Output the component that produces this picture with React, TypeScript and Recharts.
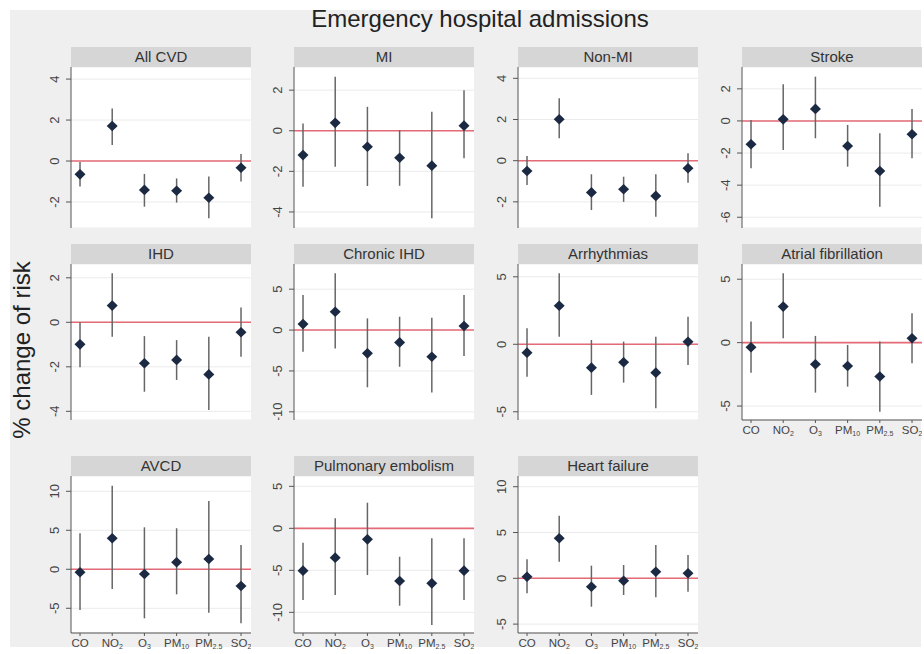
import { ComposedChart, Scatter, ErrorBar, XAxis, YAxis, CartesianGrid, ReferenceLine } from "recharts";

const xPos = [1, 2, 3, 4, 5, 6];
const pollutants = ["CO", "NO", "O", "PM", "PM", "SO"];
const pollutantSubs = ["", "2", "3", "10", "2.5", "2"];

const allCvdEst = [-0.65, 1.71, -1.41, -1.45, -1.79, -0.33];
const allCvdLo = [-1.25, 0.78, -2.23, -2.03, -2.8, -1.0];
const allCvdHi = [-0.05, 2.57, -0.63, -0.85, -0.76, 0.34];

const miEst = [-1.2, 0.39, -0.79, -1.33, -1.72, 0.25];
const miLo = [-2.76, -1.77, -2.72, -2.71, -4.31, -1.36];
const miHi = [0.36, 2.66, 1.18, 0.03, 0.94, 2.0];

const nonMiEst = [-0.5, 2.01, -1.54, -1.39, -1.71, -0.37];
const nonMiLo = [-1.18, 1.09, -2.4, -2.0, -2.72, -1.07];
const nonMiHi = [0.23, 3.03, -0.66, -0.78, -0.66, 0.36];

const strokeEst = [-1.45, 0.1, 0.75, -1.56, -3.12, -0.83];
const strokeLo = [-2.95, -1.81, -1.08, -2.85, -5.34, -2.32];
const strokeHi = [0.06, 2.29, 2.76, -0.25, -0.77, 0.75];

const ihdEst = [-0.99, 0.75, -1.84, -1.69, -2.34, -0.45];
const ihdLo = [-2.02, -0.65, -3.12, -2.59, -3.94, -1.55];
const ihdHi = [0.0, 2.2, -0.62, -0.8, -0.65, 0.66];

const chronicIhdEst = [0.73, 2.24, -2.85, -1.51, -3.27, 0.49];
const chronicIhdLo = [-2.65, -2.24, -7.0, -4.49, -7.63, -3.18];
const chronicIhdHi = [4.28, 6.94, 1.43, 1.63, 1.51, 4.28];

const arrhythmiasEst = [-0.62, 2.86, -1.73, -1.33, -2.1, 0.19];
const arrhythmiasLo = [-2.4, 0.56, -3.75, -2.84, -4.74, -1.53];
const arrhythmiasHi = [1.19, 5.26, 0.32, 0.2, 0.56, 2.04];

const afEst = [-0.36, 2.84, -1.7, -1.84, -2.67, 0.35];
const afLo = [-2.37, 0.35, -3.94, -3.47, -5.44, -1.62];
const afHi = [1.66, 5.47, 0.53, -0.18, 0.08, 2.32];

const avcdEst = [-0.38, 3.97, -0.6, 0.9, 1.32, -2.14];
const avcdLo = [-5.22, -2.53, -6.29, -3.21, -5.56, -6.92];
const avcdHi = [4.62, 10.72, 5.38, 5.26, 8.76, 3.12];

const peEst = [-5.04, -3.49, -1.31, -6.27, -6.55, -5.04];
const peLo = [-8.54, -7.94, -5.56, -9.21, -11.5, -8.54];
const peHi = [-1.71, 1.19, 3.05, -3.38, -1.19, -1.19];

const hfEst = [0.17, 4.37, -0.92, -0.26, 0.72, 0.55];
const hfLo = [-1.64, 1.81, -3.1, -1.82, -2.07, -1.46];
const hfHi = [2.07, 6.83, 1.38, 1.45, 3.64, 2.54];

const panels = [
  { title: "All CVD", est: allCvdEst, lo: allCvdLo, hi: allCvdHi, domain: [-3.27, 4.59], ticks: [-2, 0, 2, 4], col: 0, row: 0 },
  { title: "MI", est: miEst, lo: miLo, hi: miHi, domain: [-4.79, 3.14], ticks: [-4, -2, 0, 2], col: 1, row: 0 },
  { title: "Non-MI", est: nonMiEst, lo: nonMiLo, hi: nonMiHi, domain: [-3.27, 4.55], ticks: [-2, 0, 2, 4], col: 2, row: 0 },
  { title: "Stroke", est: strokeEst, lo: strokeLo, hi: strokeHi, domain: [-6.67, 3.36], ticks: [-6, -4, -2, 0, 2], col: 3, row: 0 },
  { title: "IHD", est: ihdEst, lo: ihdLo, hi: ihdHi, domain: [-4.39, 2.62], ticks: [-4, -2, 0, 2], col: 0, row: 1 },
  { title: "Chronic IHD", est: chronicIhdEst, lo: chronicIhdLo, hi: chronicIhdHi, domain: [-11.0, 8.08], ticks: [-10, -5, 0, 5], col: 1, row: 1 },
  { title: "Arrhythmias", est: arrhythmiasEst, lo: arrhythmiasLo, hi: arrhythmiasHi, domain: [-5.61, 5.95], ticks: [-5, 0, 5], col: 2, row: 1 },
  { title: "Atrial fibrillation", est: afEst, lo: afLo, hi: afHi, domain: [-6.1, 6.2], ticks: [-5, 0, 5], col: 3, row: 1, showX: true },
  { title: "AVCD", est: avcdEst, lo: avcdLo, hi: avcdHi, domain: [-8.17, 11.96], ticks: [-5, 0, 5, 10], col: 0, row: 2, showX: true },
  { title: "Pulmonary embolism", est: peEst, lo: peLo, hi: peHi, domain: [-12.46, 6.23], ticks: [-10, -5, 0, 5], col: 1, row: 2, showX: true },
  { title: "Heart failure", est: hfEst, lo: hfLo, hi: hfHi, domain: [-5.97, 11.17], ticks: [-5, 0, 5, 10], col: 2, row: 2, showX: true },
];

const colLeft = [71, 294, 518, 742];
const rowTop = [67, 264, 476];
const rowHeight = [161, 156, 157];
const plotW = 180;
const yAxisW = 45;
const FONT = "'Liberation Sans', Arial, sans-serif";

const Diamond = (props: any) => {
  const { cx, cy } = props;
  if (cx == null || cy == null) return null;
  return (
    <polygon
      points={`${cx},${cy - 5.3} ${cx + 5.5},${cy} ${cx},${cy + 5.3} ${cx - 5.5},${cy}`}
      fill="#1b2942"
    />
  );
};

const YTick = (props: any) => {
  const { x, y, payload } = props;
  return (
    <g transform={`translate(${x - 5},${y}) rotate(-90)`}>
      <text textAnchor="middle" fill="#444" fontSize={13} fontFamily={FONT}>
        {payload.value}
      </text>
    </g>
  );
};

const XTick = (props: any) => {
  const { x, y, payload } = props;
  const i = payload.value - 1;
  return (
    <text x={x} y={y} dy={9} textAnchor="middle" fill="#444" fontSize={11.5} fontFamily={FONT}>
      {pollutants[i]}
      {pollutantSubs[i] && (
        <tspan fontSize={7} dy={2}>
          {pollutantSubs[i]}
        </tspan>
      )}
    </text>
  );
};

function Panel({ p }: { p: any }) {
  const data = xPos.map((x, i) => ({
    x,
    est: p.est[i],
    err: [p.est[i] - p.lo[i], p.hi[i] - p.est[i]],
  }));
  const top = rowTop[p.row];
  const h = rowHeight[p.row];
  const left = colLeft[p.col];
  const xH = p.showX ? 24 : 0;
  return (
    <>
      <div
        style={{
          position: "absolute",
          left,
          top: top - 20,
          width: plotW,
          height: 20,
          background: "#d6d6d6",
          color: "#333",
          fontFamily: FONT,
          fontSize: 15,
          lineHeight: "20px",
          textAlign: "center",
        }}
      >
        {p.title}
      </div>
      <div style={{ position: "absolute", left: left - yAxisW, top, width: plotW + yAxisW, height: h + xH }}>
        <div style={{ position: "absolute", left: yAxisW, top: 0, width: plotW, height: h, background: "#fff" }} />
        <ComposedChart
          width={plotW + yAxisW}
          height={h + xH}
          data={data}
          margin={{ top: 0, right: 0, bottom: 0, left: 0 }}
          style={{ position: "absolute", left: 0, top: 0 }}
        >
          <CartesianGrid horizontal vertical={false} stroke="#ebebeb" />
          <XAxis
            dataKey="x"
            type="number"
            domain={[0.72, 6.31]}
            ticks={xPos}
            allowDataOverflow
            hide={!p.showX}
            height={24}
            stroke="#555"
            tickSize={3}
            tick={<XTick />}
          />
          <YAxis
            type="number"
            domain={p.domain}
            ticks={p.ticks}
            allowDataOverflow
            width={yAxisW}
            stroke="#555"
            tickSize={5}
            tick={<YTick />}
            interval={0}
          />
          <ReferenceLine y={0} stroke="#e46a76" strokeWidth={1.6} />
          <Scatter dataKey="est" isAnimationActive={false} shape={<Diamond />}>
            <ErrorBar dataKey="err" direction="y" width={0} stroke="#666" strokeWidth={1.5} />
          </Scatter>
        </ComposedChart>
      </div>
    </>
  );
}

export default function App() {
  return (
    <div style={{ position: "absolute", left: 0, top: 0, width: 924, height: 654, background: "#fff" }}>
      <div style={{ position: "absolute", left: 10, top: 10, width: 911, height: 637, background: "#efefef" }} />
      <svg width={924} height={654} style={{ position: "absolute", left: 0, top: 0 }}>
        <text x={480} y={27} textAnchor="middle" fontSize={24} fill="#222" fontFamily={FONT}>
          Emergency hospital admissions
        </text>
        <g transform="translate(30,350) rotate(-90)">
          <text textAnchor="middle" fontSize={24} fill="#222" fontFamily={FONT}>
            % change of risk
          </text>
        </g>
      </svg>
      {panels.map((p) => (
        <Panel key={p.title} p={p} />
      ))}
    </div>
  );
}
